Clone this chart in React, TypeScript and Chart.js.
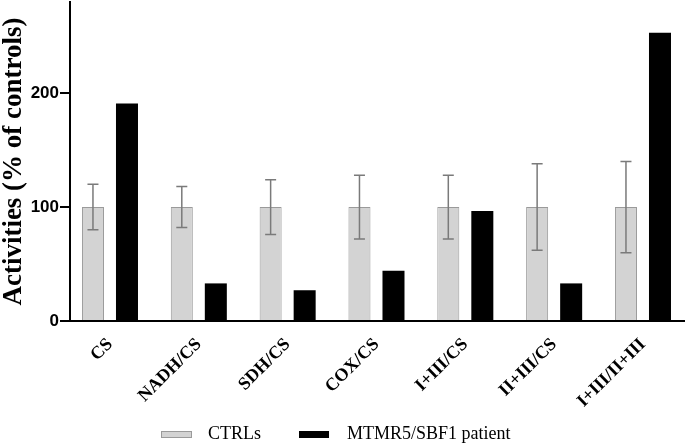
import React, { useEffect, useRef } from "react";
import { Chart, registerables } from "chart.js";

Chart.register(...registerables);

const categories = ["CS", "NADH/CS", "SDH/CS", "COX/CS", "I+III/CS", "II+III/CS", "I+III/II+III"];
const ctrlValues = [100, 100, 100, 100, 100, 100, 100];
const ctrlSD = [20, 18, 24, 28, 28, 38, 40];
const patientValues = [191, 33, 27, 44, 96.5, 33, 253];
const seriesNames = ["CTRLs", "MTMR5/SBF1 patient"];
const yTicks = [0, 100, 200];

const CTRL_FILL = "#d3d3d3";
const CTRL_BORDER = "#9a9a9a";
const PAT_FILL = "#000000";

const errorBarPlugin = {
  id: "errorBars",
  afterDatasetsDraw(chart: any) {
    const meta = chart.getDatasetMeta(0);
    const yScale = chart.scales.y;
    const ctx = chart.ctx;
    ctx.save();
    ctx.strokeStyle = "#7a7a7a";
    ctx.lineWidth = 1.5;
    meta.data.forEach((bar: any, i: number) => {
      const v = ctrlValues[i];
      const sd = ctrlSD[i];
      const yTop = yScale.getPixelForValue(v + sd);
      const yBot = yScale.getPixelForValue(v - sd);
      const x = bar.x;
      const cap = 5.5;
      ctx.beginPath();
      ctx.moveTo(x, yTop);
      ctx.lineTo(x, yBot);
      ctx.moveTo(x - cap, yTop);
      ctx.lineTo(x + cap, yTop);
      ctx.moveTo(x - cap, yBot);
      ctx.lineTo(x + cap, yBot);
      ctx.stroke();
    });
    ctx.restore();
  },
};

const legendPlugin = {
  id: "customLegend",
  afterDraw(chart: any) {
    const ctx = chart.ctx;
    ctx.save();
    ctx.font = "18px 'Liberation Serif', 'Times New Roman', serif";
    ctx.textBaseline = "middle";
    const yMid = 434.5;
    let x = 161;
    ctx.fillStyle = CTRL_FILL;
    ctx.fillRect(x, yMid - 3.5, 31, 7);
    ctx.strokeStyle = CTRL_BORDER;
    ctx.lineWidth = 1;
    ctx.strokeRect(x + 0.5, yMid - 3.5 + 0.5, 30, 6);
    x += 31 + 16;
    ctx.fillStyle = "#000";
    ctx.fillText(seriesNames[0], x, yMid);
    x += ctx.measureText(seriesNames[0]).width + 38;
    ctx.fillStyle = PAT_FILL;
    ctx.fillRect(x, yMid - 3.5, 30, 7);
    x += 30 + 18;
    ctx.fillStyle = "#000";
    ctx.fillText(seriesNames[1], x, yMid);
    ctx.restore();
  },
};

export default function App() {
  const canvasRef = useRef<HTMLCanvasElement | null>(null);

  useEffect(() => {
    document.body.style.margin = "0";
    document.body.style.background = "#fff";
    const canvas = canvasRef.current;
    if (!canvas) return;
    const chart = new Chart(canvas, {
      type: "bar",
      data: {
        datasets: [
          {
            label: seriesNames[0],
            data: ctrlValues.map((v, i) => ({ x: i, y: v })),
            backgroundColor: CTRL_FILL,
            borderColor: CTRL_BORDER,
            borderWidth: 1,
            categoryPercentage: 0.766,
            barPercentage: 0.647,
          },
          {
            label: seriesNames[1],
            data: patientValues.map((v, i) => ({ x: i, y: v })),
            backgroundColor: PAT_FILL,
            borderColor: PAT_FILL,
            borderWidth: 0,
            categoryPercentage: 0.766,
            barPercentage: 0.647,
          },
        ],
      },
      plugins: [errorBarPlugin, legendPlugin],
      options: {
        responsive: false,
        animation: false,
        devicePixelRatio: 1,
        layout: { padding: { top: 2, right: 0, bottom: 0, left: 0 } },
        plugins: {
          legend: { display: false },
          tooltip: { enabled: false },
        },
        scales: {
          x: {
            type: "linear",
            min: -0.45,
            max: 6.473,
            offset: false,
            afterFit: (scale: any) => {
              scale.height = 125;
              scale.paddingLeft = 0;
              scale.paddingRight = 0;
            },
            grid: { display: true, drawOnChartArea: false, drawTicks: false },
            border: { display: true, color: "#000", width: 2 },
            ticks: {
              stepSize: 1,
              includeBounds: false,
              autoSkip: false,
              minRotation: 45,
              maxRotation: 45,
              padding: 13,
              color: "#000",
              font: { family: "'Liberation Serif', 'Times New Roman', serif", size: 18, weight: "bold" },
              callback: (v: any) => (Number.isInteger(v) ? categories[v] ?? "" : ""),
            },
          },
          y: {
            min: 0,
            max: 280,
            afterFit: (scale: any) => {
              scale.width = 70;
              scale.paddingTop = 0;
              scale.paddingBottom = 0;
            },
            afterBuildTicks: (scale: any) => {
              scale.ticks = yTicks.map((v) => ({ value: v }));
            },
            grid: {
              display: true,
              drawOnChartArea: false,
              drawTicks: true,
              tickLength: 10,
              color: "#000",
              lineWidth: 2,
            },
            border: { display: true, color: "#000", width: 2 },
            ticks: {
              padding: 1,
              color: "#000",
              font: { family: "'Liberation Sans', Arial, sans-serif", size: 17, weight: "bold" },
            },
            title: {
              display: true,
              text: "Activities (% of controls)",
              color: "#000",
              padding: { top: -2, bottom: 0 },
              font: { family: "'Liberation Serif', 'Times New Roman', serif", size: 27, weight: "bold" },
            },
          },
        },
      },
    } as any);
    return () => chart.destroy();
  }, []);

  return (
    <div style={{ width: 685, height: 446, position: "relative" }}>
      <canvas ref={canvasRef} width={685} height={446} style={{ display: "block" }} />
    </div>
  );
}
